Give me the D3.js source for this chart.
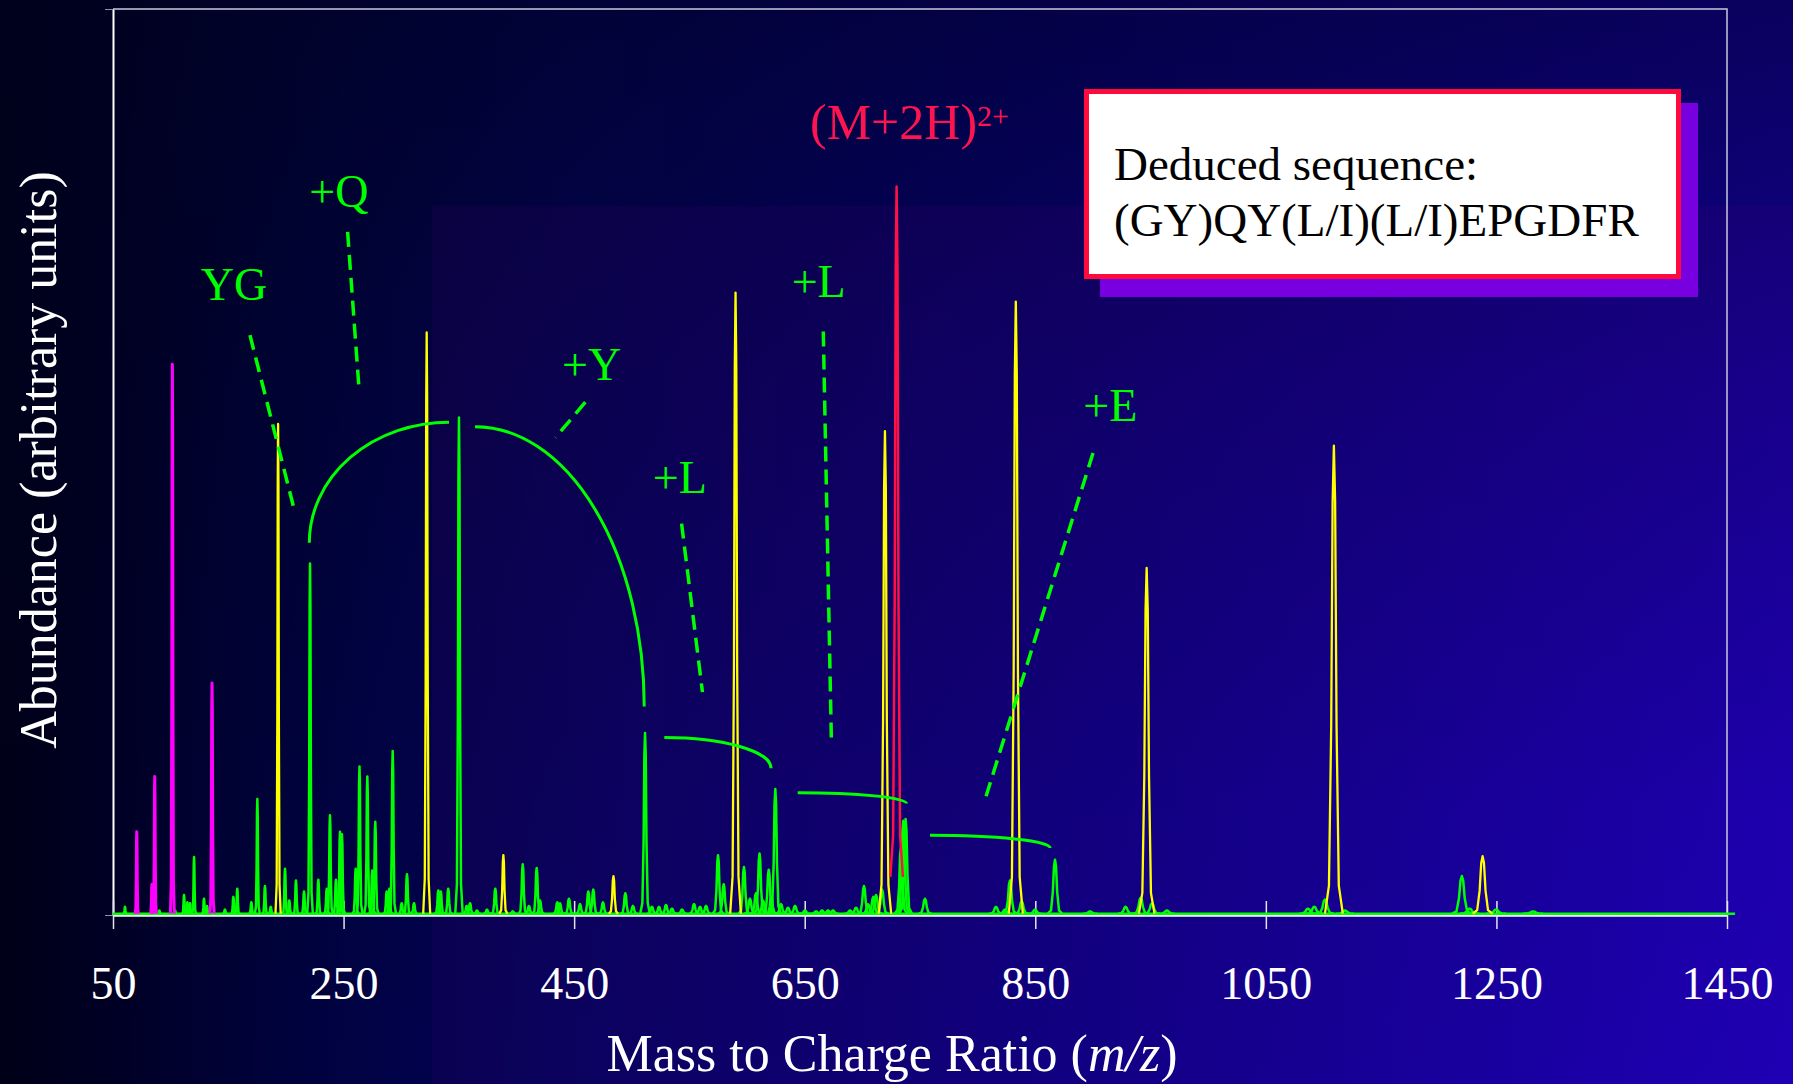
<!DOCTYPE html>
<html>
<head>
<meta charset="utf-8">
<script src="https://cdn.jsdelivr.net/npm/d3@7"></script>
<style>
  html, body { margin: 0; padding: 0; background: #000018; overflow: hidden; }
  svg { display: block; }
</style>
</head>
<body>
<div class="graph"></div>
<script>
// x tick values (m/z)
var xTicks = [50, 250, 450, 650, 850, 1050, 1250, 1450];

// peaks as [m/z, abundance %]
var greenPeaks = [
    [60.4, 0.9], [90.2, 0.5], [103.8, 0.5], [111.6, 2.2], [114.5, 1.4], [116.8, 1.3],
    [120.3, 6.4], [128.9, 1.8], [131.5, 1.0], [147.1, 0.6], [154.4, 2.0], [157.8, 2.9],
    [170.0, 1.4], [175.2, 12.8], [181.8, 3.2], [186.8, 0.9], [199.2, 5.1], [202.9, 1.6],
    [208.7, 3.8], [215.7, 2.6], [220.9, 38.8], [228.1, 3.9], [235.4, 2.9], [238.2, 11.0],
    [243.4, 3.9], [246.9, 9.2], [248.6, 8.9], [260.5, 5.1], [263.8, 16.4], [270.6, 15.3],
    [274.9, 4.9], [277.5, 10.3], [287.4, 2.6], [289.7, 2.9], [292.6, 18.1], [300.4, 1.3],
    [305.0, 4.5], [311.1, 1.3], [332.2, 2.7], [334.3, 2.6], [340.8, 2.9], [350.1, 54.9],
    [356.8, 1.0], [359.7, 1.3], [365.7, 0.5], [374.4, 0.6], [381.6, 2.9], [396.7, 0.4],
    [405.4, 5.6], [410.8, 1.0], [417.5, 5.2], [420.4, 1.6], [435.4, 1.4], [437.7, 1.3],
    [445.5, 1.8], [455.1, 1.2], [462.3, 2.6], [466.6, 2.8], [475.0, 1.4], [494.4, 2.4],
    [501.0, 1.0], [511.5, 20.1], [517.5, 0.9], [523.6, 0.9], [529.7, 1.1], [534.9, 0.7],
    [543.6, 0.6], [554.0, 1.2], [559.2, 0.9], [564.4, 1.0], [574.8, 6.6], [579.7, 3.4],
    [597.3, 5.3], [602.5, 1.8], [607.7, 2.4], [610.8, 6.8], [613.8, 1.6], [618.8, 5.0],
    [621.0, 2.0], [624.5, 13.9], [629.4, 1.2], [635.5, 0.8], [641.6, 1.0], [650.2, 0.5],
    [659.8, 0.4], [665.0, 0.5], [670.2, 0.5], [674.5, 0.5], [689.3, 0.5], [694.5, 0.8],
    [701.4, 3.2], [704.9, 1.2], [709.5, 2.0], [711.9, 2.2], [717.1, 2.8], [733.5, 7.5],
    [735.5, 10.4], [737.5, 10.6], [754.3, 1.8], [815.9, 0.9], [823.7, 0.6], [828.0, 3.8],
    [838.2, 1.5], [849.8, 0.6], [867.1, 6.1], [897.5, 0.4], [928.3, 0.9], [941.4, 1.9],
    [951.2, 1.3], [964.2, 0.5], [1086.5, 0.7], [1092.0, 0.9], [1101.3, 1.7], [1118.7, 0.5],
    [1220.0, 4.3], [1226.7, 0.7], [1249.7, 0.6], [1281.8, 0.4]
];
var magentaPeaks = [[70.6, 9.2], [83.8, 3.4], [86.2, 15.3], [101.5, 60.8], [135.9, 25.6]];
var yellowPeaks = [
    [193.2, 54.2], [322.1, 64.3], [388.6, 6.6], [484.1, 4.3], [590.0, 68.7],
    [719.6, 53.4], [833.1, 67.7], [946.6, 38.3], [1109.0, 51.8], [1238.0, 6.5]
];
var redPeaks = [[729.7, 80.4]];

// fragment annotations, anchored in data units
var fragLabels = [
    {text: 'YG', mz: 154.9, ab: 67.9},
    {text: '+Q', mz: 246.0, ab: 78.2},
    {text: '+Y', mz: 465.1, ab: 59.1},
    {text: '+L', mz: 541.7, ab: 46.6},
    {text: '+L', mz: 662.1, ab: 68.2},
    {text: '+E', mz: 915.1, ab: 54.5}
];
var leaderLines = [
    [[168.8, 64.0], [207.9, 44.4]],
    [[253.5, 75.4], [263.4, 58.1]],
    [[459.7, 56.6], [433.8, 52.7]],
    [[543.2, 43.2], [561.3, 24.6]],
    [[666.1, 64.4], [673.2, 18.8]],
    [[900.1, 51.0], [807.3, 13.1]]
];
var brackets = [
    [[220.3, 41.1], [341.5, 54.4]],
    [[364.0, 53.9], [510.8, 23.0]],
    [[528.2, 19.6], [620.8, 16.2]],
    [[643.9, 13.5], [738.4, 12.3]],
    [[758.7, 8.8], [862.8, 7.4]]
];
var parentLabel = {text: '(M+2H)', sup: '2+', mz: 654.6, ab: 85.7};
var sequenceLines = ['Deduced sequence:', '(GY)QY(L/I)(L/I)EPGDFR'];

var serif = '"Liberation Serif", "Times New Roman", "DejaVu Serif", serif';
var W = 1793, H = 1084;
var margin = {top: 9, right: 66, bottom: 169, left: 113},
    width = W - margin.left - margin.right,
    height = H - margin.top - margin.bottom;

var svg = d3.select('div.graph')
    .append('svg')
        .attr('width', W)
        .attr('height', H);

var defs = svg.append('defs');
var bgH = defs.append('linearGradient').attr('id', 'bgH')
    .attr('x1', 0).attr('y1', 0).attr('x2', 1).attr('y2', 0);
[[0, '#000018'], [0.05, '#000022'], [0.15, '#00023a'], [0.3, '#020358'],
 [0.55, '#08007c'], [0.8, '#1000a0'], [1, '#1800bc']].forEach((s) => {
    bgH.append('stop').attr('offset', s[0]).attr('stop-color', s[1]);
});
var bgV = defs.append('linearGradient').attr('id', 'bgV')
    .attr('x1', 0).attr('y1', 0).attr('x2', 0).attr('y2', 1);
[[0, 0.6], [0.35, 0.3], [0.75, 0.05], [1, 0]].forEach((s) => {
    bgV.append('stop').attr('offset', s[0]).attr('stop-color', '#00021e').attr('stop-opacity', s[1]);
});

svg.append('rect').attr('width', W).attr('height', H).attr('fill', 'url(#bgH)');
svg.append('rect').attr('width', W).attr('height', H).attr('fill', 'url(#bgV)');
svg.append('rect')
    .attr('x', 432).attr('y', 206)
    .attr('width', W - 432).attr('height', H - 206)
    .attr('fill', '#50007a').attr('opacity', 0.12);

var g = svg.append('g')
    .attr('transform', 'translate(' + margin.left + ',' + margin.top + ')');

var x = d3.scaleLinear().domain([50, 1450]).range([0, width]);
var y = d3.scaleLinear().domain([0, 100]).range([height, 0]);

// frame top + right
g.append('path')
    .attr('d', 'M0,0H' + width + 'V' + height)
    .attr('fill', 'none')
    .attr('stroke', '#c8c8dc')
    .attr('stroke-width', 1.5);

var yAxis = g.append('g')
    .call(d3.axisLeft(y).tickValues([0, 100]).tickSize(8).tickSizeOuter(0).tickFormat(''));
yAxis.select('.domain').attr('stroke', '#ffffff').attr('stroke-width', 2);
yAxis.selectAll('.tick line').attr('stroke', '#9090a8').attr('stroke-width', 1);

var xAxis = g.append('g')
    .attr('transform', 'translate(0,' + height + ')')
    .call(d3.axisBottom(x).tickValues(xTicks).tickSize(14).tickSizeOuter(0).tickFormat(d3.format('d')))
    .attr('font-family', serif)
    .attr('font-size', 46);
xAxis.select('.domain').attr('stroke', '#ffffff').attr('stroke-width', 2.5);
xAxis.selectAll('.tick line')
    .attr('y1', -14).attr('y2', 14)
    .attr('stroke', '#e4e4f0').attr('stroke-width', 1.5);
xAxis.selectAll('.tick text')
    .attr('y', 84).attr('dy', 0)
    .attr('fill', '#ffffff');

var xTitle = svg.append('text')
    .attr('x', 892).attr('y', 1071)
    .attr('text-anchor', 'middle')
    .attr('font-family', serif).attr('font-size', 52)
    .attr('fill', '#ffffff');
xTitle.append('tspan').text('Mass to Charge Ratio (');
xTitle.append('tspan').attr('font-style', 'italic').text('m/z');
xTitle.append('tspan').text(')');

svg.append('text')
    .attr('transform', 'translate(56,460) rotate(-90)')
    .attr('text-anchor', 'middle')
    .attr('font-family', serif).attr('font-size', 52)
    .attr('fill', '#ffffff')
    .text('Abundance (arbitrary units)');

// peak outline, in fractions of half-width and of height
var shape = [[-1, 0], [-0.55, 0.06], [-0.3, 0.4], [-0.14, 0.88], [0, 1],
             [0.14, 0.88], [0.3, 0.4], [0.55, 0.06], [1, 0]];
var baseLevel = 0.15;
var halfWidth = (mz) => 1.1 + 0.006 * mz;
var line = d3.line().x((d) => x(d[0])).y((d) => y(d[1]));
var peakPoints = (p, floor) => {
    var hw = halfWidth(p[0]);
    return shape.map((s) => [p[0] + s[0] * hw, floor + s[1] * (p[1] - floor)]);
};

var spectrum = g.append('g').attr('fill', 'none').attr('stroke-linejoin', 'round');

spectrum.append('path')
    .attr('d', line([[50, baseLevel], [1457, baseLevel]]))
    .attr('stroke', '#00ff00').attr('stroke-width', 2.5);

function drawPeaks(data, cls, color, sw, floor) {
    spectrum.selectAll('.' + cls)
        .data(data)
        .enter()
        .append('path')
            .attr('class', cls)
            .attr('d', (d) => line(peakPoints(d, floor)))
            .attr('stroke', color)
            .attr('stroke-width', sw);
}
drawPeaks(greenPeaks, 'green', '#00ff00', 2.5, baseLevel);
drawPeaks(magentaPeaks, 'magenta', '#ff00ff', 3, baseLevel);
drawPeaks(yellowPeaks, 'yellow', '#ffff00', 2.3, baseLevel);
drawPeaks(redPeaks, 'red', '#ff1046', 2.5, 4.2);

// annotations
var notes = g.append('g').attr('fill', 'none').attr('stroke', '#00ff00');

notes.selectAll('.leader')
    .data(leaderLines)
    .enter()
    .append('line')
        .attr('class', 'leader')
        .attr('x1', (d) => x(d[0][0])).attr('y1', (d) => y(d[0][1]))
        .attr('x2', (d) => x(d[1][0])).attr('y2', (d) => y(d[1][1]))
        .attr('stroke-width', 3.5)
        .attr('stroke-dasharray', '15,8');

notes.selectAll('.bracket')
    .data(brackets)
    .enter()
    .append('path')
        .attr('class', 'bracket')
        .attr('stroke-width', 3)
        .attr('d', (d) => {
            var x0 = x(d[0][0]), y0 = y(d[0][1]), x1 = x(d[1][0]), y1 = y(d[1][1]);
            return 'M' + x0 + ',' + y0 + 'A' + Math.abs(x1 - x0) + ',' + Math.abs(y1 - y0) +
                ' 0 0 1 ' + x1 + ',' + y1;
        });

g.selectAll('.frag')
    .data(fragLabels)
    .enter()
    .append('text')
        .attr('class', 'frag')
        .attr('x', (d) => x(d.mz))
        .attr('y', (d) => y(d.ab))
        .attr('text-anchor', 'middle')
        .attr('font-family', serif).attr('font-size', 46)
        .attr('fill', '#00ff00')
        .text((d) => d.text);

var parent = g.append('text')
    .attr('x', x(parentLabel.mz))
    .attr('y', y(parentLabel.ab))
    .attr('font-family', serif).attr('font-size', 50)
    .attr('fill', '#ff1452')
    .text(parentLabel.text);
parent.append('tspan')
    .attr('dy', -13)
    .attr('font-size', 30)
    .text(parentLabel.sup);

// sequence box
svg.append('rect')
    .attr('x', 1100).attr('y', 103)
    .attr('width', 598).attr('height', 194)
    .attr('fill', '#7800e0');
svg.append('rect')
    .attr('x', 1086.5).attr('y', 91.5)
    .attr('width', 592).attr('height', 185)
    .attr('fill', '#ffffff')
    .attr('stroke', '#ff0a3c')
    .attr('stroke-width', 5);
svg.selectAll('.seq')
    .data(sequenceLines)
    .enter()
    .append('text')
        .attr('class', 'seq')
        .attr('x', 1114)
        .attr('y', (d, i) => 180 + i * 56)
        .attr('font-family', serif).attr('font-size', 47)
        .attr('fill', '#000000')
        .text((d) => d);
</script>
</body>
</html>
